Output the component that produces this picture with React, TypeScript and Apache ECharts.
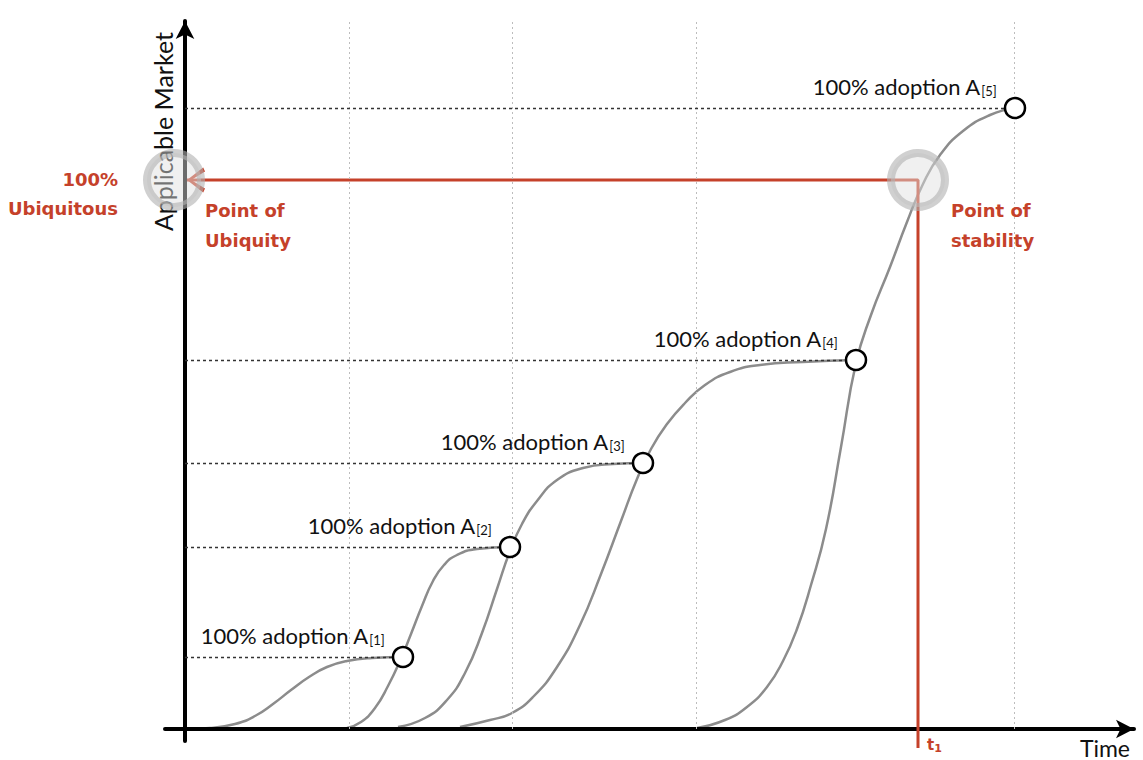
import React, { useEffect, useRef } from 'react';
import * as echarts from 'echarts';

// ---- data (time units on x, applicable-market units on y) ----
const curveA1 = [[0, 0], [25, 1], [50, 5], [70, 13], [88, 25], [106, 39], [124, 52], [142, 62], [162, 68], [187, 71], [218, 72]];
const curveA2 = [[162, 1], [176, 7], [190, 21], [203, 43], [215, 68], [226, 95], [237, 123], [248, 148], [259, 164], [272, 174], [292, 180], [325, 182]];
const curveA3 = [[213, 2], [240, 11], [262, 29], [280, 56], [297, 96], [312, 140], [325, 178], [337, 205], [352, 228], [372, 249], [398, 261], [428, 265], [458, 266]];
const curveA4 = [[275, 2], [305, 9], [327, 16], [348, 32], [372, 62], [395, 104], [416, 155], [436, 208], [452, 250], [466, 280], [482, 305], [500, 326], [520, 344], [545, 357], [575, 364], [618, 367], [671, 369]];
const curveA5 = [[512, 1], [540, 9], [562, 22], [582, 42], [598, 68], [612, 100], [626, 144], [641, 200], [656, 282], [671, 366], [686, 414], [705, 462], [722, 507], [738, 545], [755, 574], [778, 598], [805, 614], [830, 621]];
const curves = [curveA1, curveA2, curveA3, curveA4, curveA5];

const adoptionTime = [218, 325, 458, 671, 830];
const adoptionLevel = [72, 182, 266, 369, 621];
const adoptionTags = ['[1]', '[2]', '[3]', '[4]', '[5]'];

const gridTimes = [164, 327, 511, 829];
const ubiquityLevel = 549;
const stabilityTime = 733;
const redStartTime = 2;
const redBottomLevel = -19;
const ubiquityRingTime = -11;

const xMin = -20;
const xMax = 949;
const yMin = -12;
const yMax = 708;

const RED = '#c5412a';
const CURVE = '#8c8c8c';
const CHEVRON = 'path://M8,0 L0,16 L2.6,17.8 L8,4.2 L13.4,17.8 L16,16 Z';

export default function App() {
  const ref = useRef<HTMLDivElement>(null);

  useEffect(() => {
    if (!ref.current) return;
    const chart = echarts.init(ref.current, null, { renderer: 'svg' });

    const axisCommon = {
      type: 'value',
      z: 3,
      axisTick: { show: false },
      axisLabel: { show: false },
      splitLine: { show: false },
    };

    const option: any = {
      animation: false,
      backgroundColor: '#ffffff',
      grid: { left: 165, right: 9, top: 21, bottom: 19, containLabel: false },
      xAxis: {
        ...axisCommon,
        min: xMin,
        max: xMax,
        axisLine: {
          onZero: true,
          lineStyle: { color: '#000', width: 4 },
          symbol: ['none', 'arrow'],
          symbolSize: [14, 18],
        },
        name: 'Time',
        nameLocation: 'end',
        nameGap: -4,
        nameTextStyle: {
          fontFamily: 'Lato',
          fontSize: 23,
          color: '#111',
          align: 'right',
          verticalAlign: 'top',
          padding: [7, 0, 0, 0],
        },
      },
      yAxis: {
        ...axisCommon,
        min: yMin,
        max: yMax,
        axisLine: {
          onZero: true,
          lineStyle: { color: '#000', width: 4 },
          symbol: ['none', 'arrow'],
          symbolSize: [14, 18],
        },
        name: 'Applicable Market',
        nameLocation: 'end',
        nameRotate: 90,
        nameGap: -11,
        nameTextStyle: {
          fontFamily: 'Lato',
          fontSize: 25,
          color: '#111',
          align: 'right',
          verticalAlign: 'bottom',
          padding: [0, 0, 10, 0],
        },
      },
      series: [
        {
          name: 'grid',
          type: 'line',
          data: [],
          z: 1,
          silent: true,
          markLine: {
            silent: true,
            symbol: ['none', 'none'],
            label: { show: false },
            lineStyle: { color: '#bdbdbd', width: 1, type: [2, 3] },
            data: gridTimes.map((t) => [{ coord: [t, 0] }, { coord: [t, yMax] }]),
          },
        },
        {
          name: 'levels',
          type: 'line',
          data: [],
          z: 1,
          silent: true,
          markLine: {
            silent: true,
            symbol: ['none', 'none'],
            label: { show: false },
            lineStyle: { color: '#333', width: 1.4, type: [3, 3] },
            data: adoptionTime.map((t, i) => [
              { coord: [0, adoptionLevel[i]] },
              { coord: [t, adoptionLevel[i]] },
            ]),
          },
        },
        ...curves.map((c, i) => ({
          name: 'A' + (i + 1),
          type: 'line',
          data: c,
          z: 2,
          smooth: 0.5,
          symbol: 'none',
          silent: true,
          lineStyle: { color: CURVE, width: 2.5 },
        })),
        {
          name: 'ubiquity',
          type: 'line',
          z: 4,
          clip: false,
          symbol: 'none',
          silent: true,
          lineStyle: { color: RED, width: 3 },
          data: [
            [redStartTime, ubiquityLevel],
            [stabilityTime, ubiquityLevel],
            [stabilityTime, redBottomLevel],
          ],
          markPoint: {
            silent: true,
            symbol: CHEVRON,
            symbolSize: [25, 18],
            symbolRotate: 90,
            symbolOffset: [9, 0],
            itemStyle: { color: RED },
            label: { show: false },
            data: [{ coord: [redStartTime, ubiquityLevel] }],
          },
        },
        {
          name: 'adoption',
          type: 'scatter',
          z: 5,
          silent: true,
          symbol: 'circle',
          symbolSize: 20,
          itemStyle: { color: '#fff', borderColor: '#000', borderWidth: 2.5, opacity: 1 },
          data: adoptionTime.map((t, i) => [t, adoptionLevel[i]]),
          label: {
            show: true,
            position: 'left',
            distance: 7,
            offset: [0, -22],
            formatter: (p: any) => `{a|100% adoption A}{s|${adoptionTags[p.dataIndex]}}`,
            rich: {
              a: { fontFamily: 'Lato', fontSize: 22, color: '#111' },
              s: { fontFamily: 'Lato', fontSize: 13, color: '#111', padding: [9, 0, 0, 1] },
            },
          },
        },
        {
          name: 'rings',
          type: 'scatter',
          z: 6,
          silent: true,
          symbol: 'circle',
          symbolSize: 54,
          itemStyle: {
            color: 'rgba(224,224,224,0.6)',
            borderColor: 'rgba(176,176,176,0.75)',
            borderWidth: 8,
          },
          data: [
            [ubiquityRingTime, ubiquityLevel],
            [stabilityTime, ubiquityLevel],
          ],
        },
      ],
      graphic: [
        {
          type: 'text',
          x: 118,
          y: 194,
          z: 10,
          style: {
            text: '100%\nUbiquitous',
            fontFamily: 'DejaVu Sans',
            fontWeight: 'bold',
            fontSize: 18,
            lineHeight: 29,
            fill: RED,
            align: 'right',
            verticalAlign: 'middle',
          },
        },
        {
          type: 'text',
          x: 205,
          y: 225,
          z: 10,
          style: {
            text: 'Point of\nUbiquity',
            fontFamily: 'DejaVu Sans',
            fontWeight: 'bold',
            fontSize: 18,
            lineHeight: 30,
            fill: RED,
            align: 'left',
            verticalAlign: 'middle',
          },
        },
        {
          type: 'text',
          x: 951,
          y: 225,
          z: 10,
          style: {
            text: 'Point of\nstability',
            fontFamily: 'DejaVu Sans',
            fontWeight: 'bold',
            fontSize: 18,
            lineHeight: 30,
            fill: RED,
            align: 'left',
            verticalAlign: 'middle',
          },
        },
        {
          type: 'text',
          x: 927,
          y: 745,
          z: 10,
          style: {
            text: '{t|t}{s|1}',
            fill: RED,
            align: 'left',
            verticalAlign: 'middle',
            rich: {
              t: { fontFamily: 'DejaVu Sans', fontWeight: 'bold', fontSize: 15, fill: RED, color: RED },
              s: { fontFamily: 'DejaVu Sans', fontWeight: 'bold', fontSize: 11, fill: RED, color: RED, padding: [6, 0, 0, 0] },
            },
          },
        },
      ],
    };

    chart.setOption(option);
    return () => chart.dispose();
  }, []);

  return (
    <div
      ref={ref}
      style={{ position: 'absolute', left: 0, top: 0, width: 1143, height: 760, background: '#fff' }}
    />
  );
}
